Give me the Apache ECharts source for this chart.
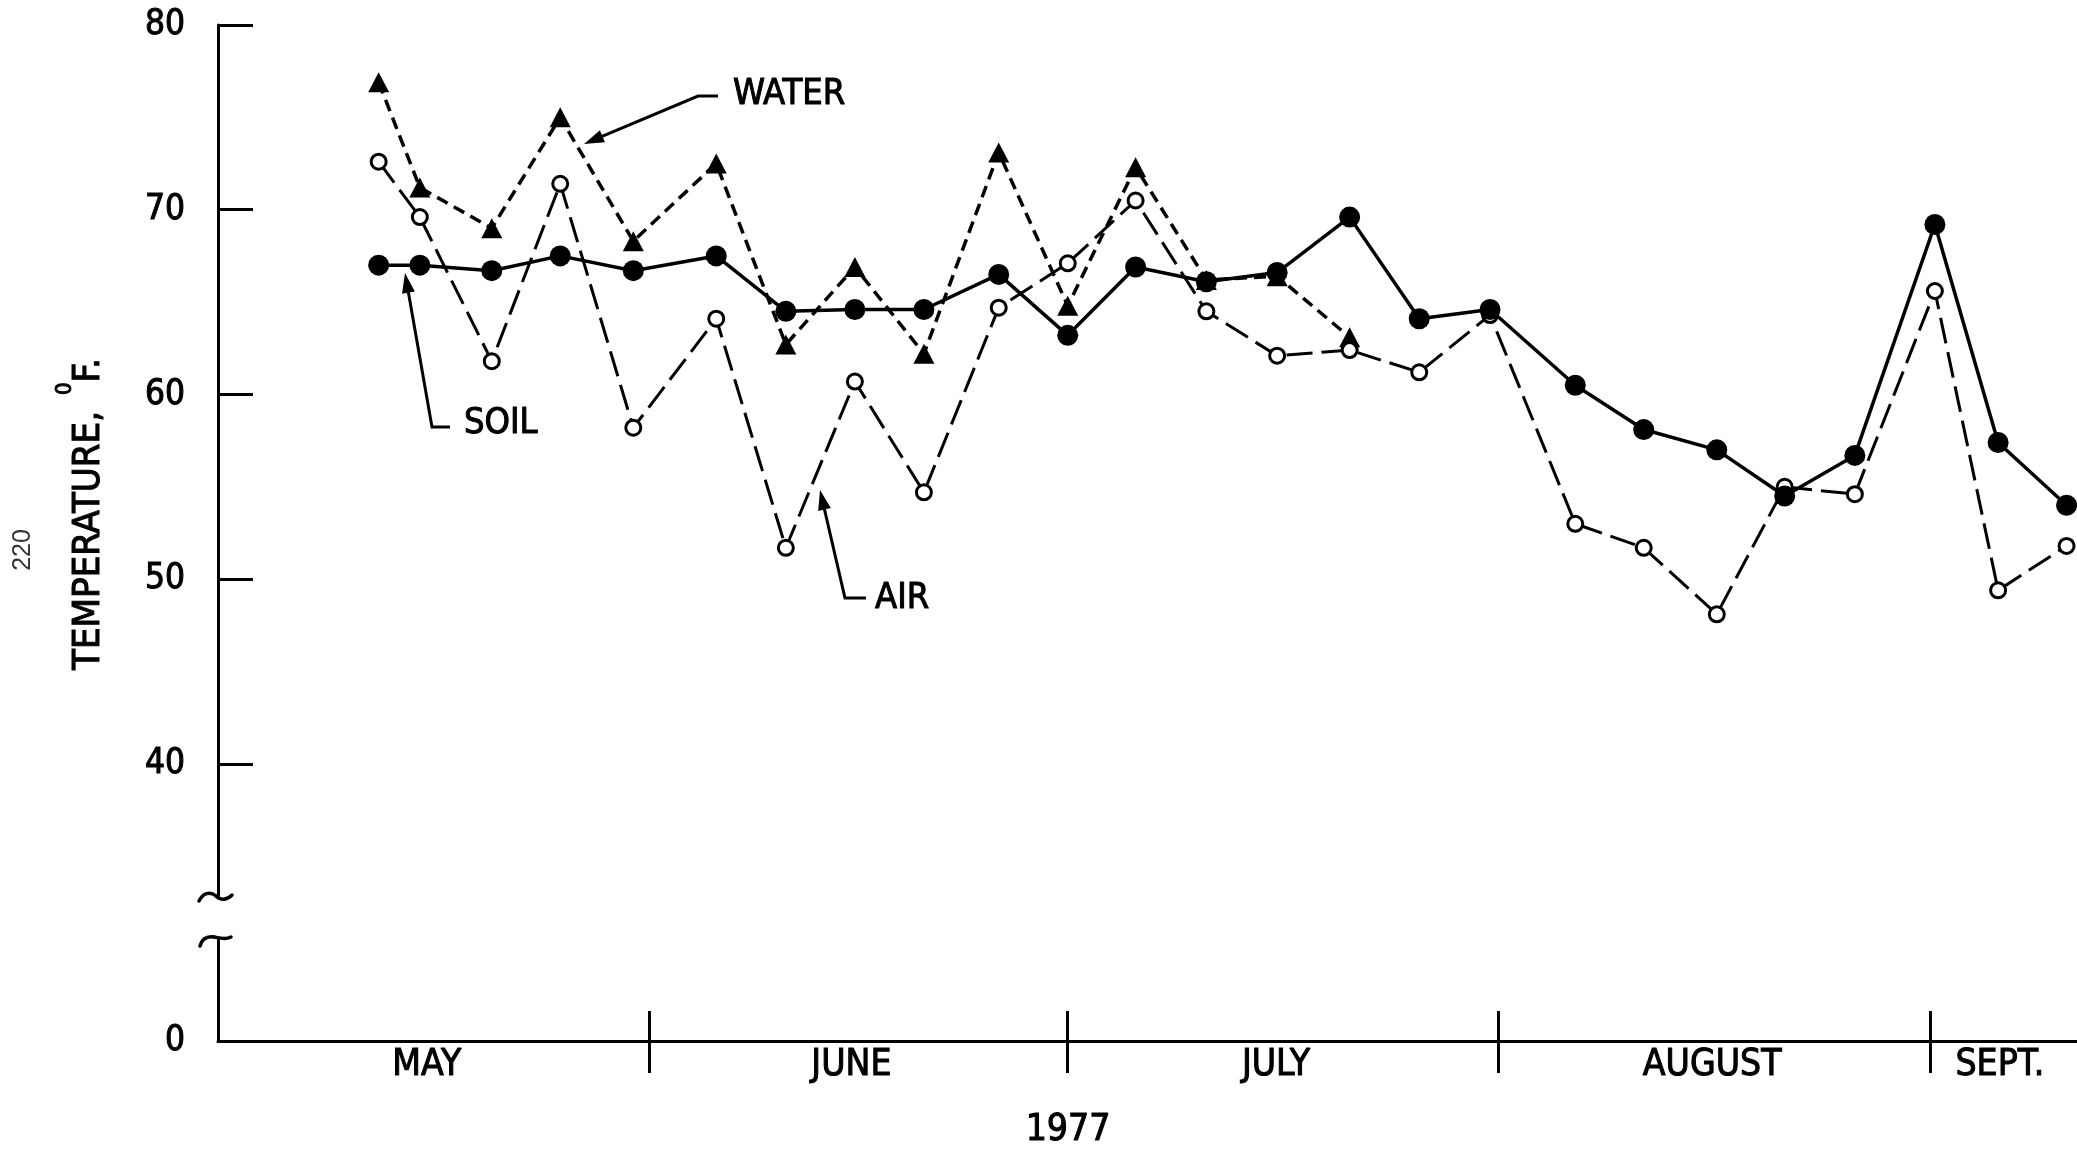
<!DOCTYPE html>
<html>
<head>
<meta charset="utf-8">
<script src="https://cdn.jsdelivr.net/npm/echarts@6/dist/echarts.min.js"></script>
<style>
html,body{margin:0;padding:0;background:#fff;}
#c{width:2077px;height:1149px;}
</style>
</head>
<body>
<div id="c"></div>
<script>
// ---- data ----
const dates = ['1977-05-12 13:00','1977-05-15 12:00','1977-05-20 16:00','1977-05-25 14:00','1977-05-30 20:00',
  '1977-06-05 19:00','1977-06-10 19:00','1977-06-15 18:00','1977-06-20 17:00','1977-06-26 02:00',
  '1977-07-01 01:00','1977-07-05 22:00','1977-07-11 00:00','1977-07-16 02:00','1977-07-21 07:00',
  '1977-07-26 07:00','1977-07-31 09:00','1977-08-06 12:00','1977-08-11 10:00','1977-08-16 16:00',
  '1977-08-21 13:00','1977-08-26 14:00','1977-09-01 08:00','1977-09-05 21:00','1977-09-10 19:00'];
const soil  = [67.0,67.0,66.7,67.5,66.7,67.5,64.5,64.6,64.6,66.5,63.2,66.9,66.1,66.6,69.6,64.1,64.6,60.5,58.1,57.0,54.5,56.7,69.2,57.4,54.0];
const air   = [72.6,69.6,61.8,71.4,58.2,64.1,51.7,60.7,54.7,64.7,67.1,70.5,64.5,62.1,62.4,61.2,64.3,53.0,51.7,48.1,55.0,54.6,65.6,49.4,51.8];
const water = [76.9,71.2,69.0,75.0,68.3,72.5,62.7,66.9,62.2,73.1,64.8,72.3,66.2,66.4,63.1];
const seriesNames = ['SOIL','AIR','WATER'];
const monthNames = ['MAY','JUNE','JULY','AUGUST','SEPT.'];
const monthLabelAt = ['1977-05-16 00:00','1977-06-15 12:00','1977-07-16 00:00','1977-08-16 08:00','1977-09-06 00:00'];
const monthStarts = ['1977-06-01 00:00','1977-07-01 00:00','1977-08-01 00:00','1977-09-01 00:00'];
const axisStart = '1977-05-01 00:00';
const axisEnd = '1977-09-11 13:00';
const yTicks = [40,50,60,70,80];
const yZeroAt = 25;          // axis position where "0" is drawn, below the scale break
const yZeroLabel = '0';
const yearLabel = '1977';
const yTitle = 'TEMPERATURE, {s|0}F.';
const pageNo = '220';

// ---- helpers ----
const F = "'Liberation Sans Narrow','DejaVu Sans Condensed','Arial Narrow',sans-serif";
const SW = 1;   // slight stroke to thicken the condensed type like the printed original
function utc(s) {
  const m = s.match(/^(\d{4})-(\d{2})-(\d{2}) (\d{2}):(\d{2})$/);
  return Date.UTC(+m[1], +m[2] - 1, +m[3], +m[4], +m[5]);
}
const t0 = utc(axisStart);
const day = s => (utc(s) - t0) / 86400000;   // days since 1 May 1977
const xMax = day(axisEnd);
const monthStartDays = monthStarts.map(day);
const monthLabelDays = monthLabelAt.map(day);
function monthName(v) {
  for (let i = 0; i < monthLabelDays.length; i++) if (Math.abs(monthLabelDays[i] - v) < 1e-3) return monthNames[i];
  return '';
}

function leader(pts) {
  const n = pts.length;
  const [tx, ty] = pts[n - 1];
  const [px, py] = pts[n - 2];
  const dx = tx - px, dy = ty - py, L = Math.hypot(dx, dy);
  const ux = dx / L, uy = dy / L;
  const len = 20, hw = 6.5;
  const bx = tx - ux * len, by = ty - uy * len;
  const line = pts.slice(0, n - 1).concat([[bx + ux * 3, by + uy * 3]]);
  return [
    {type: 'polyline', shape: {points: line}, style: {stroke: '#000', lineWidth: 3, fill: null}, z: 20},
    {type: 'polygon', shape: {points: [[tx, ty], [bx - uy * hw, by + ux * hw], [bx + uy * hw, by - ux * hw]]}, style: {fill: '#000'}, z: 20}
  ];
}
function label(text, x, y, size) {
  return {type: 'text', x: x, y: y, z: 20,
    style: {text: text, fontSize: size, fontFamily: F, fill: '#000', stroke: '#000', lineWidth: SW,
      align: 'left', verticalAlign: 'middle'}};
}
function curve(a) {
  return {type: 'bezierCurve', z: 31,
    shape: {x1: a[0], y1: a[1], cpx1: a[2], cpy1: a[3], cpx2: a[4], cpy2: a[5], x2: a[6], y2: a[7]},
    style: {stroke: '#000', lineWidth: 3.5, fill: null, lineCap: 'round'}};
}

const graphics = [
  // scale break on the vertical axis
  {type: 'rect', shape: {x: 204, y: 898, width: 28, height: 41}, style: {fill: '#fff'}, z: 30},
  curve([199, 901, 203, 893, 210, 891, 216, 896]),
  curve([216, 896, 221, 901, 227, 900, 232, 895]),
  curve([200, 946, 202, 939, 207, 936, 214, 937]),
  curve([214, 937, 220, 938, 225, 940, 231, 937]),
  // series labels with leaders
  ...leader([[718, 96], [698, 96], [584, 144]]),
  label(seriesNames[2], 733, 95, 36),
  ...leader([[450, 427], [432, 427], [405, 273]]),
  label(seriesNames[0], 464, 424, 36),
  ...leader([[866, 598], [845, 598], [820, 490]]),
  label(seriesNames[1], 875, 599, 36),
  // year under the axis
  {type: 'text', x: 1068, y: 1130, z: 20,
   style: {text: yearLabel, fontSize: 37, fontFamily: F, fill: '#000', stroke: '#000', lineWidth: SW,
     align: 'center', verticalAlign: 'middle'}},
  // y title
  {type: 'text', x: 89, y: 514, rotation: Math.PI / 2, z: 20,
   style: {text: yTitle, fontSize: 38, fontFamily: F, fill: '#000', stroke: '#000', lineWidth: SW,
     align: 'center', verticalAlign: 'middle',
     rich: {s: {fontSize: 22, fontFamily: F, fill: '#000', stroke: '#000', lineWidth: SW, padding: [0, 0, 48, 5]}}}},
  // page number
  {type: 'text', x: 23, y: 550, rotation: Math.PI / 2, z: 20,
   style: {text: pageNo, fontSize: 25, fontFamily: "'Liberation Sans',Arial,sans-serif", fill: '#333', align: 'center', verticalAlign: 'middle'}}
];

const chart = echarts.init(document.getElementById('c'), null, {renderer: 'canvas'});
const axisColor = '#000';
chart.setOption({
  animation: false,
  backgroundColor: '#fff',
  grid: {left: 218, right: 0, top: 25, bottom: 108, containLabel: false},
  xAxis: [
    {type: 'value', min: 0, max: xMax, gridIndex: 0, position: 'bottom',
     axisLine: {show: true, onZero: false, lineStyle: {color: axisColor, width: 3}},
     axisTick: {show: true, inside: true, length: 30, customValues: monthStartDays, lineStyle: {color: axisColor, width: 3}},
     axisLabel: {show: true, customValues: monthLabelDays, formatter: v => monthName(v),
       color: '#000', fontSize: 37, fontFamily: F, textBorderColor: '#000', textBorderWidth: SW,
       margin: 6, hideOverlap: false},
     splitLine: {show: false}},
    {type: 'value', min: 0, max: xMax, gridIndex: 0, position: 'bottom',
     axisLine: {show: false, onZero: false},
     axisTick: {show: true, inside: false, length: 32, customValues: monthStartDays, lineStyle: {color: axisColor, width: 3}},
     axisLabel: {show: false}, splitLine: {show: false}}
  ],
  yAxis: {
    type: 'value', min: yZeroAt, max: 80,
    axisLine: {show: true, lineStyle: {color: axisColor, width: 3}},
    axisTick: {show: true, inside: true, length: 35, customValues: yTicks, lineStyle: {color: axisColor, width: 3}},
    axisLabel: {show: true, customValues: [yZeroAt].concat(yTicks),
      formatter: v => (v === yZeroAt ? yZeroLabel : String(v)),
      color: '#000', fontSize: 35, fontFamily: F, textBorderColor: '#000', textBorderWidth: SW, margin: 33},
    splitLine: {show: false}
  },
  series: [
    {name: seriesNames[0], type: 'line', data: dates.map((d, i) => [day(d), soil[i]]),
     symbol: 'circle', symbolSize: 21, showAllSymbol: true, clip: false, z: 4,
     itemStyle: {color: '#000'}, lineStyle: {color: '#000', width: 3.5, type: 'solid'}},
    {name: seriesNames[1], type: 'line', data: dates.map((d, i) => [day(d), air[i]]),
     symbol: 'circle', symbolSize: 15, showAllSymbol: true, clip: false, z: 3,
     itemStyle: {color: '#fff', borderColor: '#000', borderWidth: 3},
     lineStyle: {color: '#000', width: 3, type: [26, 9]}},
    {name: seriesNames[2], type: 'line', data: dates.slice(0, water.length).map((d, i) => [day(d), water[i]]),
     symbol: 'triangle', symbolSize: [21, 20], showAllSymbol: true, clip: false, z: 2,
     itemStyle: {color: '#000'}, lineStyle: {color: '#000', width: 3.5, type: [12, 7]}}
  ],
  graphic: graphics
});
</script>
</body>
</html>
